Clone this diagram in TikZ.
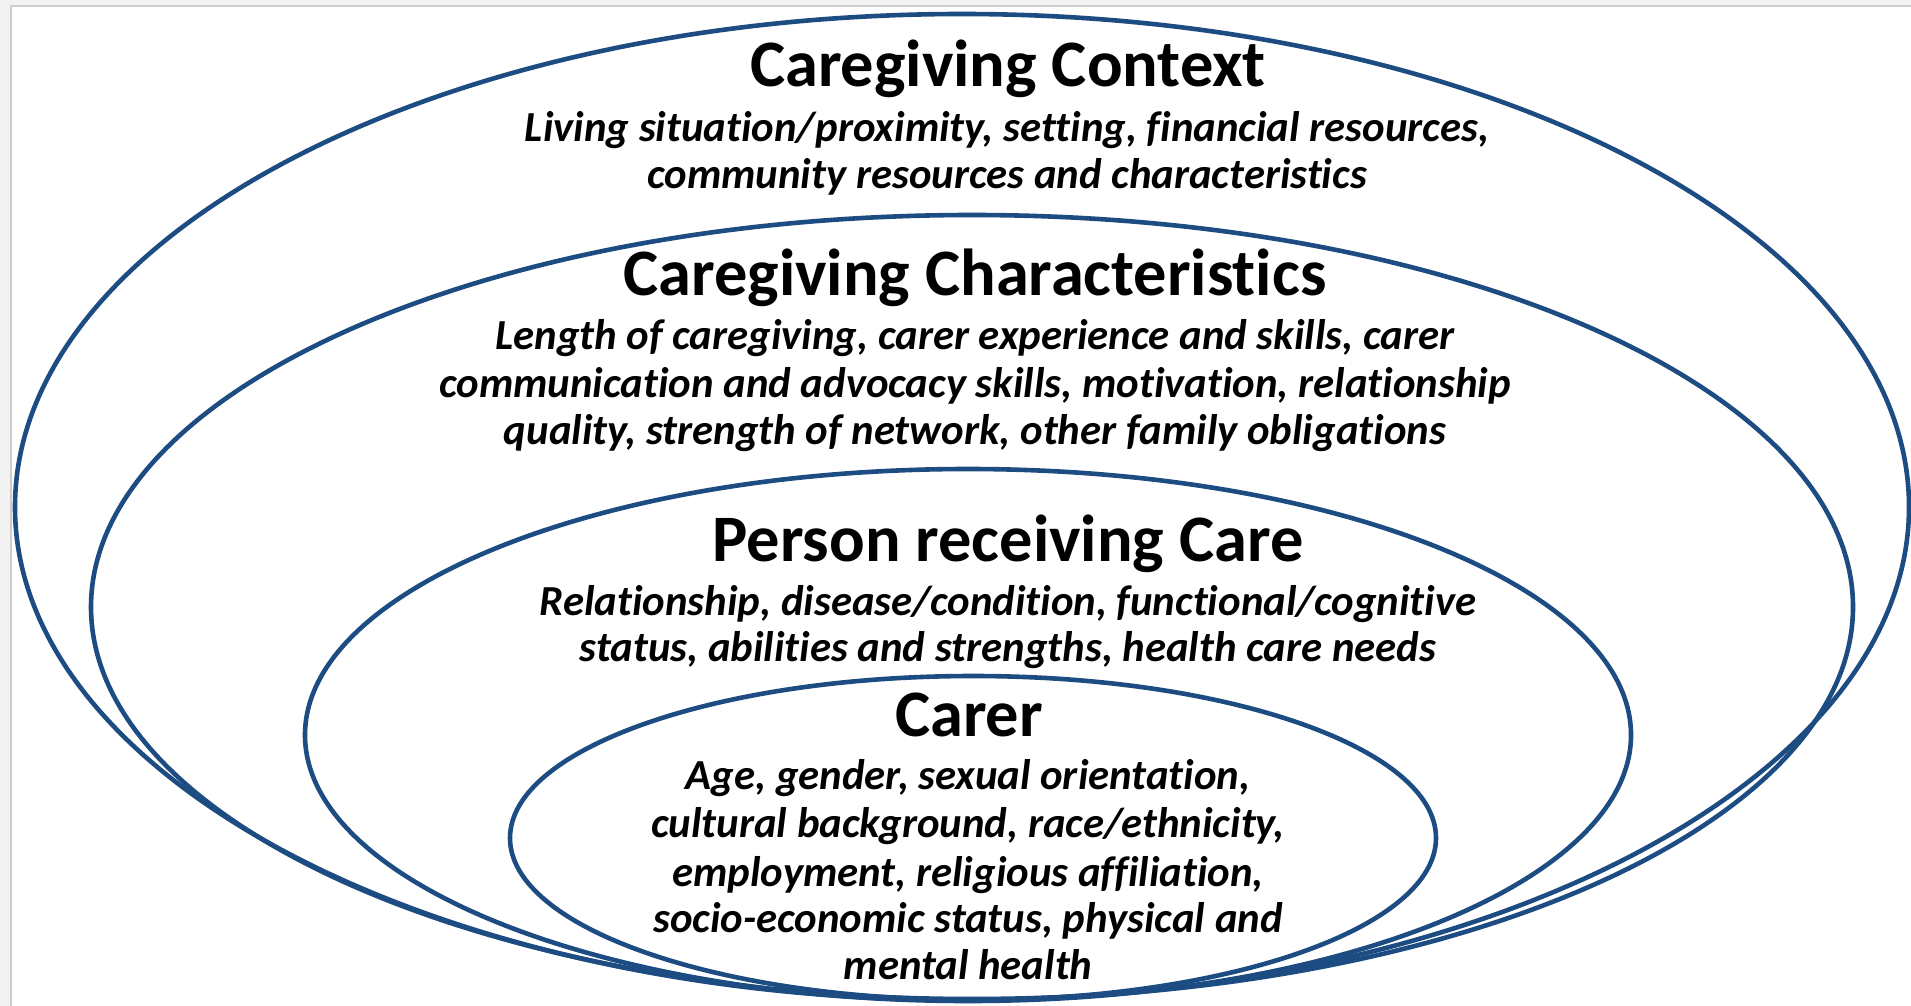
\documentclass[tikz,border=0pt]{standalone}
\usepackage{fontspec}
\setmainfont{Carlito}[Ligatures=CommonOff]
\definecolor{ringblue}{RGB}{28,76,130}
\definecolor{framegray}{RGB}{205,205,205}
\definecolor{outsidegray}{RGB}{242,242,242}
\begin{document}
\begin{tikzpicture}[x=0.5pt,y=-0.5pt,
  ring/.style={draw=ringblue,line width=2.3pt},
  ttl/.style={font=\fontsize{33.2}{38}\selectfont\bfseries, inner sep=0pt, anchor=base},
  dsc/.style={font=\fontsize{21.4}{23.75}\selectfont\bfseries\itshape, inner sep=0pt, anchor=base}]
\useasboundingbox (0,0) rectangle (1911,1006);
\fill[outsidegray] (0,0) rectangle (1911,1006);
\fill[white] (11,6) rectangle (1911,1006);
\draw[framegray, line width=0.8pt] (11,1006) -- (11,6) -- (1911,6);
% rings
\draw[ring] (962,507) ellipse [x radius=947, y radius=493];
\draw[ring] (972,607) ellipse [x radius=881, y radius=392];
\draw[ring] (968,735) ellipse [x radius=663, y radius=266];
\draw[ring] (973,838) ellipse [x radius=463, y radius=162];
% Caregiving Context
\node[ttl] (t1) at (1008,87) {Caregiving Context};
\node[dsc] (d1a) at (1007,141) {Living situation/proximity, setting, financial resources,};
\node[dsc] (d1b) at (1007,188) {community resources and characteristics};
% Caregiving Characteristics
\node[ttl] (t2) at (975,295) {Caregiving Characteristics};
\node[dsc] (d2a) at (975,349) {Length of caregiving, carer experience and skills, carer};
\node[dsc] (d2b) at (975,397) {communication and advocacy skills, motivation, relationship};
\node[dsc] (d2c) at (975,444) {quality, strength of network, other family obligations};
% Person receiving Care
\node[ttl] (t3) at (1008,561) {Person receiving Care};
\node[dsc] (d3a) at (1008,615) {Relationship, disease/condition, functional/cognitive};
\node[dsc] (d3b) at (1008,661) {status, abilities and strengths, health care needs};
% Carer
\node[ttl] (t4) at (969,736) {Carer};
\node[dsc] (d4a) at (968,789) {Age, gender, sexual orientation,};
\node[dsc] (d4b) at (968,837) {cultural background, race/ethnicity,};
\node[dsc] (d4c) at (968,886) {employment, religious affiliation,};
\node[dsc] (d4d) at (968,932) {socio-economic status, physical and};
\node[dsc] (d4e) at (968,979) {mental health};
\end{tikzpicture}
\end{document}
